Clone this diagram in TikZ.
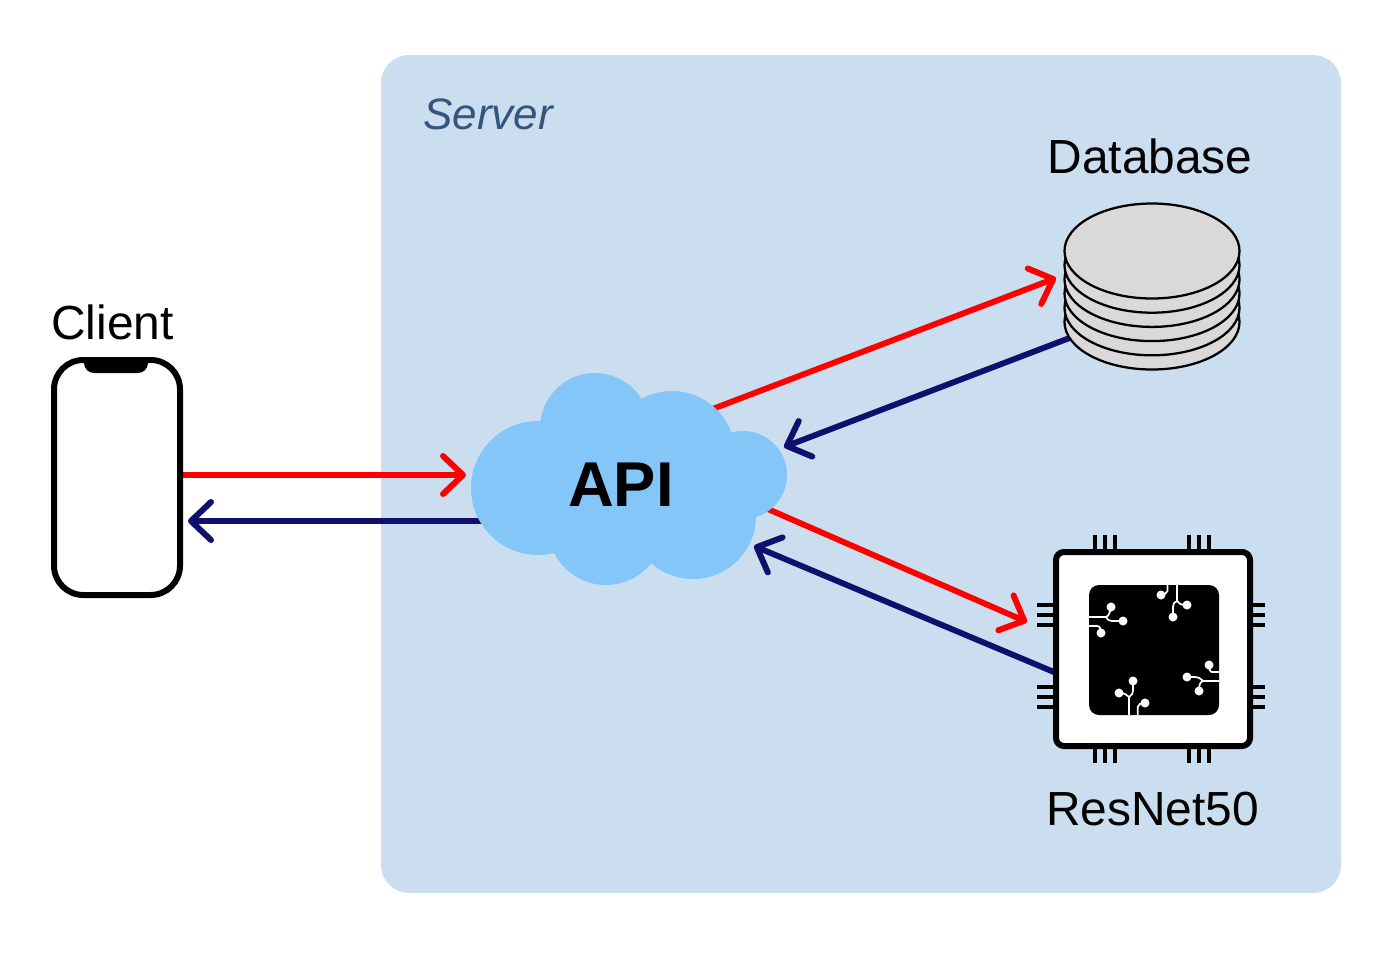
\documentclass[tikz,border=0pt]{standalone}
\usepackage{fontspec}
\setmainfont{Liberation Sans}
\usetikzlibrary{arrows.meta}
\pgfdeclarelayer{backdrop}
\pgfdeclarelayer{links}
\pgfsetlayers{backdrop,links,main}
\definecolor{serverfill}{HTML}{CBDEF0}
\definecolor{cloudfill}{HTML}{85C6F9}
\definecolor{navyline}{HTML}{0F0F6E}
\definecolor{servertext}{HTML}{34557D}
\definecolor{dbfill}{HTML}{D9D9D9}
\tikzset{
  x=0.75pt,y=-0.75pt,
  barb/.style={-{Straight Barb[length=15pt,width=28.5pt,line width=4.5pt,round]},line width=4.4pt},
  req/.style={barb,draw=red},
  resp/.style={barb,draw=navyline},
  lbl/.style={font=\fontsize{35.9pt}{40pt}\selectfont,inner sep=0pt,anchor=base,text=black},
  platter/.style={draw=black,fill=dbfill,line width=1.7pt},
  pin/.style={draw=black,line width=3pt},
  trace/.style={draw=white,line width=1.3pt},
  dot/.style={fill=white},
}
\begin{document}
\begin{tikzpicture}
\useasboundingbox (0,0) rectangle (1395,953);

% server
\begin{pgfonlayer}{backdrop}
\node[draw=none,fill=serverfill,rounded corners=21pt,minimum width=720pt,minimum height=628.5pt,inner sep=0pt] (server) at (861,474) {};
\end{pgfonlayer}
\node[font=\itshape\fontsize{33pt}{38pt}\selectfont,text=servertext,inner sep=0pt,anchor=base west] (serverlabel) at (423,129) {Server};

% client
\node[draw=black,fill=white,line width=4.5pt,rounded corners=22pt,minimum width=94.5pt,minimum height=176.25pt,inner sep=0pt] (client) at (117,477.5) {};
\fill[black] (84,358) -- (148,358) -- (148,363) arc[start angle=0,end angle=90,radius=10] -- (94,373) arc[start angle=90,end angle=180,radius=10] -- cycle;
\node[lbl,anchor=base west] (clientlabel) at (51,339) {Client};

% cloud
\fill[cloudfill]
  (538,488) circle[radius=67]
  (595,428) circle[radius=55]
  (672,454) circle[radius=63]
  (743,475) circle[radius=44]
  (693,516) circle[radius=63]
  (606,527) circle[radius=58]
  (620,480) circle[radius=75];
\node[font=\bfseries\fontsize{47.5pt}{52pt}\selectfont,inner sep=0pt,text=black] (api) at (621,485) {API};

% database
\foreach \cy in {322,307.8,293.6,279.4,265.2,251}
  \draw[platter] (1152,\cy) ellipse[x radius=87.5,y radius=47.5];
\node[minimum width=132pt,minimum height=126pt,inner sep=0pt] (db) at (1152,287) {};
\node[lbl] (dblabel) at (1150,173) {Database};

% chip
\foreach \x in {1095,1105,1115,1189,1199,1209} {
  \draw[pin] (\x,535) -- (\x,552);
  \draw[pin] (\x,746) -- (\x,763);
}
\foreach \y in {605,615,625,687,697,707} {
  \draw[pin] (1037,\y) -- (1056,\y);
  \draw[pin] (1250,\y) -- (1265,\y);
}
\node[draw=black,fill=white,line width=4.5pt,rounded corners=6pt,minimum width=145.5pt,minimum height=145.5pt,inner sep=0pt] (chip) at (1153,649) {};
\node[fill=black,rounded corners=7.5pt,minimum width=97.5pt,minimum height=97.5pt,inner sep=0pt] (die) at (1154,650) {};
% traces
\draw[trace] (1089,617) -- (1106,617) .. controls (1109,616) and (1110,612) .. (1111,607);
\draw[trace] (1106,617) .. controls (1108,620) and (1109,621) .. (1112,621) -- (1123,621);
\draw[trace] (1089,626) -- (1097,626) .. controls (1100,626) and (1101,629) .. (1101,633);
\draw[trace] (1177,585) -- (1177,601) .. controls (1174,602) and (1173,604) .. (1173,607) -- (1173,617);
\draw[trace] (1177,601) .. controls (1179,604) and (1181,605) .. (1187,605);
\draw[trace] (1167.5,585) -- (1167.5,591) .. controls (1167,593) and (1164,595) .. (1161,595);
\draw[trace] (1219,681) -- (1203,681) .. controls (1200,682) and (1199,685) .. (1199,691);
\draw[trace] (1203,681) .. controls (1200,678) and (1198,677) .. (1194,677) -- (1187,677);
\draw[trace] (1219,672) -- (1212,672) .. controls (1210,672) and (1209,669) .. (1209,665);
\draw[trace] (1129,715) -- (1129,697) .. controls (1132,696) and (1133,693) .. (1133,689) -- (1133,681);
\draw[trace] (1129,697) .. controls (1127,695) and (1125,693) .. (1119,693);
\draw[trace] (1137.7,715) -- (1137.7,707) .. controls (1138,704) and (1141,703) .. (1145,703);
\foreach \px/\py in {1111/607,1123/621,1101/633,1161/595,1187/605,1173/617,1209/665,1187/677,1199/691,1133/681,1119/693,1145/703}
  \fill[dot] (\px,\py) circle[radius=4.5];
\node[lbl] (chiplabel) at (1152.5,825) {ResNet50};

% connectors
\begin{pgfonlayer}{links}
\draw[req] ([shift={(66,-2.5)}]client.center) -- ([shift={(-155,-10)}]api.center);
\draw[resp] ([shift={(-131,36)}]api.center) -- ([shift={(71,43.5)}]client.center);
\draw[req] ([shift={(85,-73.5)}]api.center) -- ([shift={(-96,-9)}]db.center);
\draw[resp] ([shift={(-72,47)}]db.center) -- ([shift={(163,-38)}]api.center);
\draw[req] ([shift={(140,21)}]api.center) -- ([shift={(-126,-27)}]chip.center);
\draw[resp] ([shift={(-92,26)}]chip.center) -- ([shift={(133,61)}]api.center);
\end{pgfonlayer}
\end{tikzpicture}
\end{document}
